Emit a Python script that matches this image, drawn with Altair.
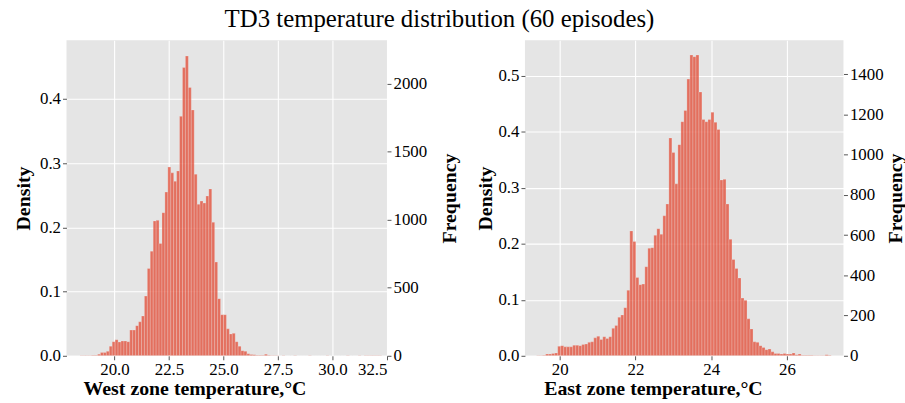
import altair as alt
import pandas as pd

# ---------------- data ----------------
N_SAMPLES = 35100

west_bin_start = 18.285
west_bin_width = 0.1343
west_density = [
    0.0002, 0.0003, 0.0003, 0.0005, 0.0005, 0.0008, 0.001, 0.0026, 0.005, 0.005,
    0.007, 0.015, 0.022, 0.025, 0.0215, 0.023, 0.023, 0.022, 0.040, 0.040,
    0.047, 0.053, 0.062, 0.093, 0.136, 0.163, 0.210, 0.211, 0.175, 0.223,
    0.255, 0.294, 0.285, 0.272, 0.288, 0.373, 0.449, 0.467, 0.418, 0.383,
    0.283, 0.236, 0.241, 0.238, 0.249, 0.260, 0.208, 0.146, 0.089, 0.064,
    0.064, 0.042, 0.034, 0.035, 0.022, 0.015, 0.008, 0.007, 0.003, 0.002,
    0.0015, 0.001, 0.001, 0.0008, 0.0026, 0.0008, 0.0005, 0.0003, 0.0003, 0.0002,
    0.0003, 0.0002, 0.0, 0.0002, 0.0003, 0.0, 0.0002, 0.0002, 0.0, 0.0003,
    0.0002, 0.0, 0.0002, 0.0, 0.0002, 0.0003, 0.0, 0.0002, 0.0, 0.0002,
    0.0, 0.0002, 0.0003, 0.0, 0.0002, 0.0, 0.0003, 0.0002, 0.0003, 0.0005,
    0.0005, 0.0003, 0.0005, 0.0003, 0.0002,
]

east_bin_start = 19.393
east_bin_width = 0.0793
east_density = [
    0.0005, 0.0005, 0.001, 0.003, 0.003, 0.004, 0.005, 0.017, 0.018, 0.016,
    0.016, 0.016, 0.019, 0.019, 0.018, 0.020, 0.021, 0.024, 0.025, 0.032,
    0.035, 0.029, 0.034, 0.031, 0.034, 0.049, 0.054, 0.069, 0.073, 0.086,
    0.117, 0.223, 0.204, 0.140, 0.127, 0.128, 0.159, 0.192, 0.193, 0.215,
    0.227, 0.217, 0.250, 0.271, 0.389, 0.363, 0.307, 0.377, 0.418, 0.438,
    0.494, 0.537, 0.534, 0.537, 0.471, 0.422, 0.418, 0.422, 0.435, 0.417,
    0.404, 0.314, 0.315, 0.271, 0.208, 0.172, 0.156, 0.139, 0.103, 0.099,
    0.066, 0.048, 0.025, 0.024, 0.018, 0.015, 0.011, 0.012, 0.007, 0.004,
    0.004, 0.003, 0.004, 0.003, 0.003, 0.005, 0.002, 0.003, 0.001, 0.001,
    0.0008, 0.0008, 0.0005, 0.0005, 0.0005, 0.0005, 0.002, 0.001,
]

west_x_ticks = [20.0, 22.5, 25.0, 27.5, 30.0, 32.5]
east_x_ticks = [20, 22, 24, 26]
west_density_ticks = [0.0, 0.1, 0.2, 0.3, 0.4]
east_density_ticks = [0.0, 0.1, 0.2, 0.3, 0.4, 0.5]
west_freq_ticks = [0, 500, 1000, 1500, 2000]
east_freq_ticks = [0, 200, 400, 600, 800, 1000, 1200, 1400]

FONT = "Liberation Serif"


def make_df(start, width, dens):
    lo = [start + i * width for i in range(len(dens))]
    hi = [v + width for v in lo]
    freq = [d * N_SAMPLES * width for d in dens]
    return pd.DataFrame({"lo": lo, "hi": hi, "density": dens, "freq": freq,
                         "base": [0.0] * len(dens)})


def panel(df, width, xdom, xticks, xfmt, xtitle, ytop, yticks, fticks, w, h,
          dens_pad, freq_pad):
    k = N_SAMPLES * width
    xaxis = alt.Axis(values=xticks, format=xfmt, title=xtitle,
                     titleX=129, titleY=39, titleAlign="center",
                     titleBaseline="alphabetic")
    xenc = alt.X("lo:Q", scale=alt.Scale(domain=xdom, nice=False, zero=False),
                 axis=xaxis)
    bars = alt.Chart(df).mark_rect(
        color="#E24A33", fillOpacity=0.76, stroke="#F4F4F4",
        strokeWidth=0.6, strokeOpacity=0.4, clip=True,
    ).encode(
        x=xenc,
        x2="hi:Q",
        y=alt.Y("density:Q", scale=alt.Scale(domain=[0, ytop], nice=False),
                axis=alt.Axis(values=yticks, format=".1f", title="Density",
                              orient="left", titlePadding=dens_pad)),
        y2="base:Q",
    )
    freq = alt.Chart(df).mark_rect(opacity=0).encode(
        x=xenc,
        x2="hi:Q",
        y=alt.Y("freq:Q", scale=alt.Scale(domain=[0, ytop * k], nice=False),
                axis=alt.Axis(values=fticks, format="d", title="Frequency",
                              orient="right", grid=False, titleAngle=270,
                              titleBaseline="top", titlePadding=freq_pad)),
        y2="base:Q",
    )
    return alt.layer(bars, freq).resolve_scale(y="independent").properties(
        width=w, height=h)


west = panel(make_df(west_bin_start, west_bin_width, west_density), west_bin_width,
             [17.8, 32.5], west_x_ticks, ".1f", "West zone temperature,°C",
             0.4916, west_density_ticks, west_freq_ticks, 323, 318, 6, 13)
east = panel(make_df(east_bin_start, east_bin_width, east_density), east_bin_width,
             [19.083, 27.49], east_x_ticks, "d", "East zone temperature,°C",
             0.5634, east_density_ticks, east_freq_ticks, 321, 318, 2, 2)

chart = alt.hconcat(west, east, spacing=16).properties(
    title=alt.TitleParams("TD3 temperature distribution (60 episodes)",
                          font=FONT, fontSize=25, fontWeight="normal",
                          color="black", anchor="middle", offset=8, dx=-20),
    padding={"left": 13, "top": 6, "right": 0, "bottom": 0},
).configure_view(
    fill="#E5E5E5", strokeWidth=0,
).configure_axis(
    labelFont=FONT, labelFontSize=17, labelColor="black",
    titleFont=FONT, titleFontSize=20, titleFontWeight="bold", titleColor="black",
    domain=False, tickColor="#555555", tickSize=4, tickWidth=1,
    gridColor="white", gridWidth=1.1, labelPadding=2,
)

chart.save("out.html", embed_options={"renderer": "svg", "actions": False})
